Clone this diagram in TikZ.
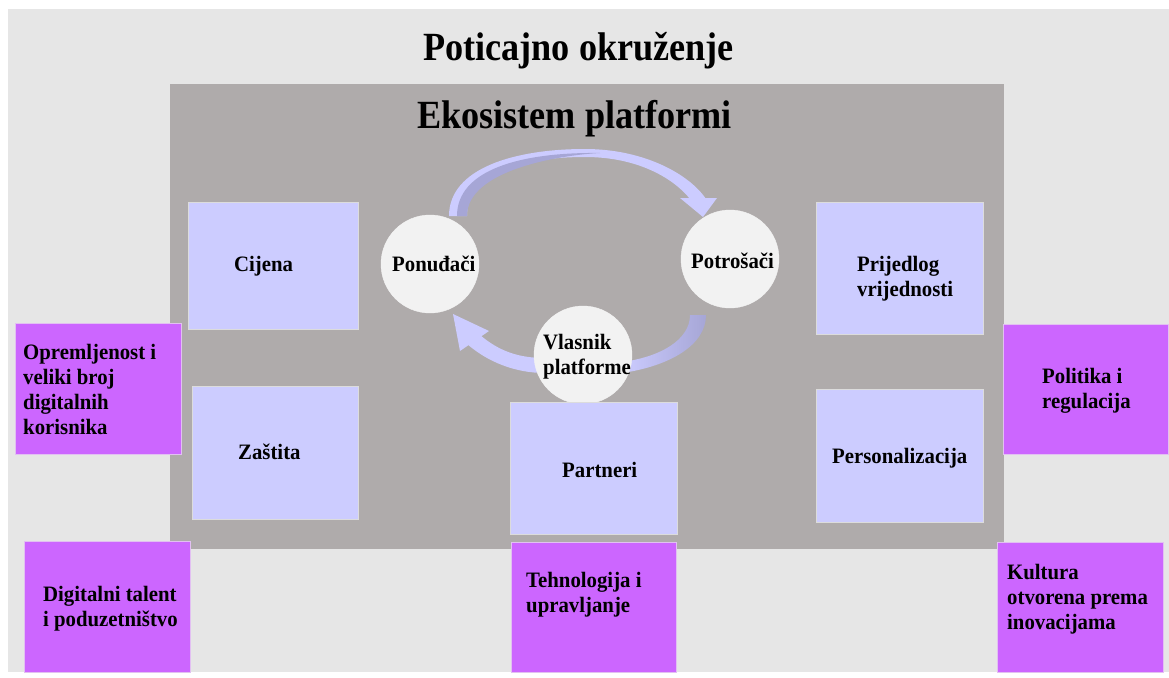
\documentclass[tikz,border=0pt]{standalone}
\usepackage{fontspec}
\setmainfont{Liberation Serif}
\newfontfamily\bodyfont[FakeStretch=0.945]{Liberation Serif}
\newfontfamily\titlefont[FakeStretch=0.905]{Liberation Serif}
\definecolor{envbg}{HTML}{E6E6E6}
\definecolor{ecobg}{HTML}{AFABAB}
\definecolor{lav}{HTML}{CCCCFF}
\definecolor{purp}{HTML}{CC66FF}
\definecolor{circ}{HTML}{F2F2F2}
\definecolor{arrdark}{HTML}{A6A6D6}
\definecolor{boxedge}{HTML}{DCDCDC}
\definecolor{purpedge}{HTML}{E2C0F2}
\begin{document}
\begin{tikzpicture}[x=1pt,y=-1pt,
  area/.style={rectangle, inner sep=0, draw=none},
  lavbox/.style={rectangle, inner sep=0, fill=lav, draw=boxedge, line width=0.8pt},
  purpbox/.style={rectangle, inner sep=0, fill=purp, draw=purpedge, line width=0.8pt},
  actor/.style={circle, inner sep=0, minimum size=98pt, fill=circ, draw=circ!90!white},
  txt/.style={font=\bodyfont\bfseries\fontsize{22}{25}\selectfont, inner sep=0, align=left, anchor=base west},
  ttl/.style={font=\titlefont\bfseries\fontsize{40}{44}\selectfont, inner sep=0, anchor=base}]
\useasboundingbox (0,0) rectangle (1169,677);
\fill[white] (0,0) rectangle (1169,677);
% backgrounds
\node[area, fill=envbg, minimum width=1161pt, minimum height=663pt] (env) at (588.5,340.5) {};
\node[area, fill=ecobg, minimum width=834pt, minimum height=465pt] (eco) at (587,316.5) {};
% titles
\node[ttl] (envtitle) at (578.5,60) {Poticajno okruženje};
\node[ttl] (ecotitle) at (574.5,128) {Ekosistem platformi};
% inner lavender boxes
\node[lavbox, minimum width=170pt, minimum height=127pt] (cijena) at (273,265.5) {};
\node[lavbox, minimum width=166pt, minimum height=133pt] (zastita) at (275,452.5) {};
\node[lavbox, minimum width=167pt, minimum height=132pt] (prijedlog) at (899.5,268) {};
\node[lavbox, minimum width=167pt, minimum height=133pt] (personal) at (899.5,455.5) {};
% purple boxes
\node[purpbox, minimum width=166pt, minimum height=131pt] (oprem) at (98,388.5) {};
\node[purpbox, minimum width=166pt, minimum height=131pt] (digital) at (107,606.5) {};
\node[purpbox, minimum width=165pt, minimum height=130pt] (politika) at (1085.5,389) {};
\node[purpbox, minimum width=166pt, minimum height=130pt] (kultura) at (1080,607) {};
\node[purpbox, minimum width=165pt, minimum height=130pt] (tehno) at (593.5,607) {};
% cycle arrows
% top arc: Ponudjaci -> Potrosaci
\fill[lav] (449,216) .. controls (449,168) and (515,149) .. (585,149)
  .. controls (645,149) and (690,175) .. (706,199)
  -- (690,199) .. controls (675,180) and (640,157) .. (585,157)
  .. controls (525,157) and (467,172) .. (467,216) -- cycle;
\fill[arrdark] (457,216) .. controls (457,170) and (520,152) .. (600,153)
  .. controls (560,155) and (467,170) .. (467,216) -- cycle;
\fill[lav] (680,198) -- (717,198) -- (703,217) -- cycle;
% right arc: Potrosaci -> Vlasnik
\shade[left color=lav, right color=arrdark] (706,315) .. controls (706,345) and (670,366) .. (622,373)
  -- (622,362) .. controls (660,357) and (690,340) .. (690,315) -- cycle;
% left arc: Vlasnik -> Ponudjaci
\fill[lav] (480,335) .. controls (500,352) and (520,358) .. (545,358)
  -- (545,373) .. controls (515,373) and (488,362) .. (467,344) -- cycle;
\fill[lav] (453,314) -- (489,331) -- (460,351) -- cycle;
% actors
\node[actor] (ponudjaci) at (430,264) {};
\node[actor] (potrosaci) at (730,259) {};
\node[actor] (vlasnik) at (583,355) {};
\node[lavbox, minimum width=167pt, minimum height=132pt] (partneri) at (593.5,468) {};
% texts (base = baseline of the last line)
\node[txt] (tponudjaci) at (392,271) {Ponuđači};
\node[txt] (tpotrosaci) at (691,268) {Potrošači};
\node[txt] (tvlasnik) at (543,374) {Vlasnik\\platforme};
\node[txt] (tcijena) at (234,271) {Cijena};
\node[txt] (tzastita) at (238,459) {Zaštita};
\node[txt] (tprijedlog) at (857,296) {Prijedlog\\vrijednosti};
\node[txt] (tpersonal) at (832,463) {Personalizacija};
\node[txt] (tpartneri) at (562,477) {Partneri};
\node[txt] (toprem) at (23,434) {Opremljenost i\\veliki broj\\digitalnih\\korisnika};
\node[txt] (tdigital) at (43,626) {Digitalni talent\\i poduzetništvo};
\node[txt] (tpolitika) at (1042,408) {Politika i\\regulacija};
\node[txt] (tkultura) at (1007,629) {Kultura\\otvorena prema\\inovacijama};
\node[txt] (ttehno) at (526,612) {Tehnologija i\\upravljanje};
\end{tikzpicture}
\end{document}
